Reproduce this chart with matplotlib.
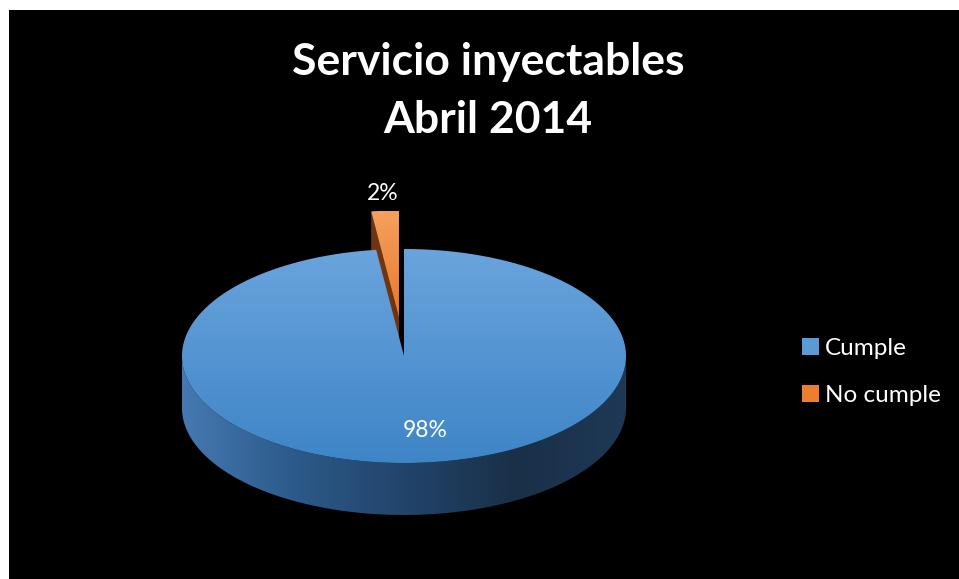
import numpy as np
import matplotlib
matplotlib.use("Agg")
import matplotlib.pyplot as plt
from matplotlib.patches import Polygon, Patch
from matplotlib.colors import LinearSegmentedColormap

# data
categories = ["Cumple", "No cumple"]
values = [98, 2]
explode = [0.0, 0.36]
title_lines = ["Servicio inyectables", "Abril 2014"]

# styling
FONT = ["Lato", "DejaVu Sans"]
BLUE_TOP = ["#6aa4dd", "#3e85c7"]
BLUE_SIDE = ["#4679b2", "#2c5a8a", "#22446a", "#1a3049", "#1e3855"]
ORANGE_TOP = ["#f6a05e", "#e8782c"]
ORANGE_WALL = "#6e3510"
LEGEND_COLORS = ["#5b9bd5", "#ed7d31"]

W, H = 959, 579
CX, CY, RX, RY, DEPTH = 404, 356, 222, 107, 52


def rim(t, off=(0, 0), dz=0):
    t = np.radians(t)
    return np.column_stack([CX + RX * np.cos(t) + off[0], CY - RY * np.sin(t) + off[1] + dz])


def grad_fill(ax, verts, colors, vertical=True, z=2):
    poly = Polygon(verts, closed=True, facecolor="none", edgecolor="none")
    ax.add_patch(poly)
    cmap = LinearSegmentedColormap.from_list("g", colors)
    g = np.linspace(0, 1, 256)
    arr = g[:, None] if vertical else g[None, :]
    x0, y0 = verts[:, 0].min(), verts[:, 1].min()
    x1, y1 = verts[:, 0].max(), verts[:, 1].max()
    im = ax.imshow(arr, cmap=cmap, extent=(x0, x1, y1, y0), aspect="auto",
                   interpolation="bilinear", zorder=z)
    im.set_clip_path(poly)


fig = plt.figure(figsize=(W / 100, H / 100), dpi=100, facecolor="white")
ax = fig.add_axes([9 / W, 0, (W - 9) / W, (H - 10) / H])
ax.set_facecolor("black")
ax.set_xlim(9, W)
ax.set_ylim(H, 10)
ax.set_xticks([])
ax.set_yticks([])
for s in ax.spines.values():
    s.set_visible(False)

total = sum(values)
fracs = [v / total for v in values]
# slices run clockwise from 12 o'clock
ends = 90 - 360 * np.cumsum([0] + fracs)
slices = [(ends[i + 1], ends[i]) for i in range(len(values))]  # (start, stop) ccw

# exploded slices go in back
order = sorted(range(len(values)), key=lambda i: -explode[i])
for i in order:
    a0, a1 = slices[i]
    mid = np.radians((a0 + a1) / 2)
    off = (explode[i] * RX * np.cos(mid), -explode[i] * RY * np.sin(mid))
    ts = np.linspace(a0, a1, max(int(abs(a1 - a0) * 2), 4))
    c = np.array([[CX + off[0], CY + off[1]]])
    if i == 0:
        # front side wall
        fs = np.linspace(max(a0, -180), min(a1, 0), 300) if a0 < 0 else np.linspace(180, 360, 300)
        top = rim(fs)
        bot = rim(fs[::-1], dz=DEPTH)
        grad_fill(ax, np.vstack([top, bot]), BLUE_SIDE, vertical=False, z=2)
        grad_fill(ax, np.vstack([c, rim(ts, off)]), BLUE_TOP, z=3)
    else:
        e = rim([a1], off)[0]
        wall = np.array([c[0], e, e + [0, DEPTH], c[0] + [0, DEPTH]])
        ax.add_patch(Polygon(wall, closed=True, facecolor=ORANGE_WALL, edgecolor="none", zorder=1))
        grad_fill(ax, np.vstack([c, rim(ts, off)]), ORANGE_TOP, z=1.5)

# data labels
for i, (a0, a1) in enumerate(slices):
    mid = np.radians((a0 + a1) / 2)
    r = 0.7 if explode[i] == 0 else 1.16 + explode[i]
    x = CX + RX * r * np.cos(mid) + (11 if explode[i] == 0 else 0)
    y = CY - RY * r * np.sin(mid)
    ax.text(x, y, f"{fracs[i] * 100:.0f}%", color="white", fontsize=16.5,
            family=FONT, ha="center", va="center", zorder=5)

# title
ax.text(488, 75, title_lines[0], color="white", fontsize=32, weight="bold",
        family=FONT, ha="center", va="baseline")
ax.text(488, 133, title_lines[1], color="white", fontsize=32, weight="bold",
        family=FONT, ha="center", va="baseline")

handles = [Patch(facecolor=c, edgecolor="none") for c in LEGEND_COLORS]
leg = ax.legend(handles, categories, loc="center left", bbox_to_anchor=(0.812, 0.364),
                frameon=False, labelcolor="white", prop={"family": FONT, "size": 17.5},
                handlelength=0.7, handleheight=0.7, handletextpad=0.25, labelspacing=1.1)

fig.savefig("out.png", dpi=100, facecolor="white")
